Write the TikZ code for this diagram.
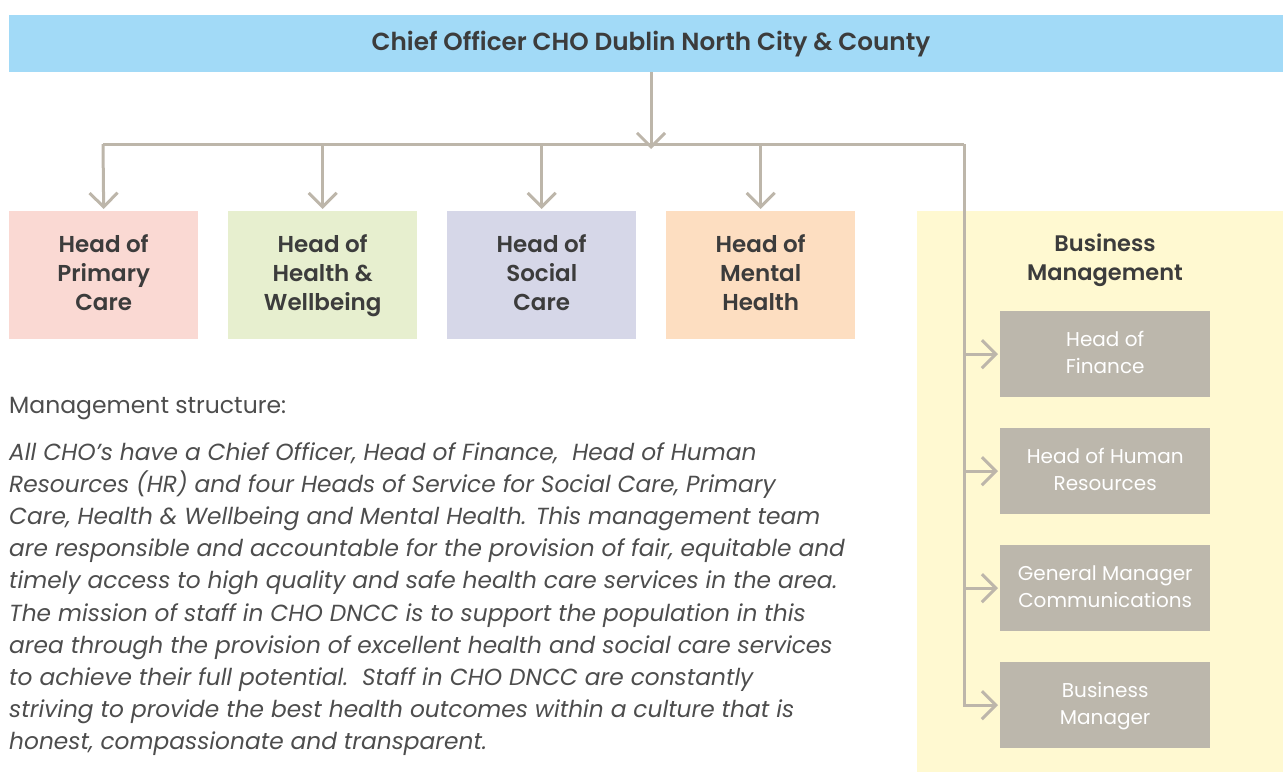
\documentclass[tikz,border=0pt]{standalone}
\usepackage{fontspec}
\setmainfont{Poppins}[BoldFont={Poppins SemiBold}]
\usetikzlibrary{arrows.meta}
\definecolor{topblue}{HTML}{A2DAF7}
\definecolor{pcpink}{HTML}{FAD9D3}
\definecolor{hwgreen}{HTML}{E7EFCF}
\definecolor{sclav}{HTML}{D6D7E8}
\definecolor{mhpeach}{HTML}{FDDEC1}
\definecolor{bmyellow}{HTML}{FFF9D1}
\definecolor{graybox}{HTML}{BCB7AC}
\definecolor{linecol}{HTML}{BDB6AA}
\definecolor{darktext}{HTML}{3C3C3C}
\definecolor{paratext}{HTML}{4D4D4D}
\tikzset{
  conn/.style={draw=linecol, line width=3pt},
  tipped/.style={conn, -{Straight Barb[length=14pt,width=28pt]}},
  headbox/.style={anchor=north west, minimum width=189pt, minimum height=128pt, inner sep=0pt,
    text=darktext, font=\fontsize{23}{29}\selectfont\bfseries, align=center},
  subbox/.style={anchor=north west, fill=graybox, minimum width=210pt, minimum height=86pt, inner sep=0pt,
    text=white, font=\fontsize{20}{27}\selectfont, align=center},
  paraline/.style={anchor=base west, inner sep=0pt, text=paratext, font=\fontsize{23.3}{32}\selectfont\itshape}
}
\begin{document}
\begin{tikzpicture}[x=1pt,y=-1pt]
\useasboundingbox (0,0) rectangle (1283,772);
% top box
\node[anchor=north west, fill=topblue, minimum width=1274pt, minimum height=57pt, inner sep=0pt] (top) at (9,15) {};
\node[text=darktext, font=\fontsize{24.7}{28}\selectfont\bfseries, inner sep=0pt] (toptext) at (651,44.5) {Chief Officer CHO Dublin North City \& County};
% business management background
\node[anchor=north west, fill=bmyellow, minimum width=366pt, minimum height=561pt, inner sep=0pt] (bmbg) at (917,211) {};
\node[text=darktext, font=\fontsize{22.5}{29}\selectfont\bfseries, align=center, inner sep=0pt] (bmtitle) at (1105,260) {\strut Business\\Management\strut};
% heads
\node[headbox, fill=pcpink] (pc) at (9,211) {\strut Head of\\Primary\\Care\strut};
\node[headbox, fill=hwgreen] (hw) at (228,211) {\strut Head of\\Health \&\\Wellbeing\strut};
\node[headbox, fill=sclav] (sc) at (447,211) {\strut Head of\\Social\\Care\strut};
\node[headbox, fill=mhpeach] (mh) at (666,211) {\strut Head of\\Mental\\Health\strut};
% sub boxes
\node[subbox] (fin) at (1000,311) {\strut Head of\\Finance\strut};
\node[subbox] (hr) at (1000,428) {\strut Head of Human\\Resources\strut};
\node[subbox] (gm) at (1000,545) {\strut General Manager\\Communications\strut};
\node[subbox] (bm) at (1000,662) {\strut Business\\Manager\strut};
% connectors
\coordinate (hub) at (651,144);
\coordinate (barL) at (103,144);
\coordinate (barR) at (964,144);
\draw[tipped] (hub |- top.south) -- ([yshift=-5pt]hub);
\draw[conn] (barL) -- (barR);
\draw[tipped, shorten >=2pt] (barL) -- (pc.north);
\draw[tipped, shorten >=2pt] (hw.north |- barL) -- (hw.north);
\draw[tipped, shorten >=2pt] (sc.north |- barL) -- (sc.north);
\draw[tipped, shorten >=2pt] (mh.north |- barL) -- (mh.north);
\draw[tipped, shorten >=2pt] (barR) |- (bm.west);
\draw[tipped, shorten >=2pt] (barR |- fin.west) -- (fin.west);
\draw[tipped, shorten >=2pt] (barR |- hr.west) -- (hr.west);
\draw[tipped, shorten >=2pt] (barR |- gm.west) -- (gm.west);
% text
\node[anchor=base west, inner sep=0pt, text=paratext, font=\fontsize{23.5}{32}\selectfont] (mstruct) at (9,413) {Management structure:};
\node[paraline] (p1) at (9,460) {All CHO’s have a Chief Officer, Head of Finance,\ \ Head of Human};
\node[paraline] (p2) at (9,492.2) {Resources (HR) and four Heads of Service for Social Care, Primary};
\node[paraline] (p3) at (9,524.4) {Care, Health \& Wellbeing and Mental Health. This management team};
\node[paraline] (p4) at (9,556.6) {are responsible and accountable for the provision of fair, equitable and};
\node[paraline] (p5) at (9,588.8) {timely access to high quality and safe health care services in the area.};
\node[paraline] (p6) at (9,621) {The mission of staff in CHO DNCC is to support the population in this};
\node[paraline] (p7) at (9,653.2) {area through the provision of excellent health and social care services};
\node[paraline] (p8) at (9,685.4) {to achieve their full potential.\ \ Staff in CHO DNCC are constantly};
\node[paraline] (p9) at (9,717.6) {striving to provide the best health outcomes within a culture that is};
\node[paraline] (p10) at (9,749.8) {honest, compassionate and transparent.};
\end{tikzpicture}
\end{document}
